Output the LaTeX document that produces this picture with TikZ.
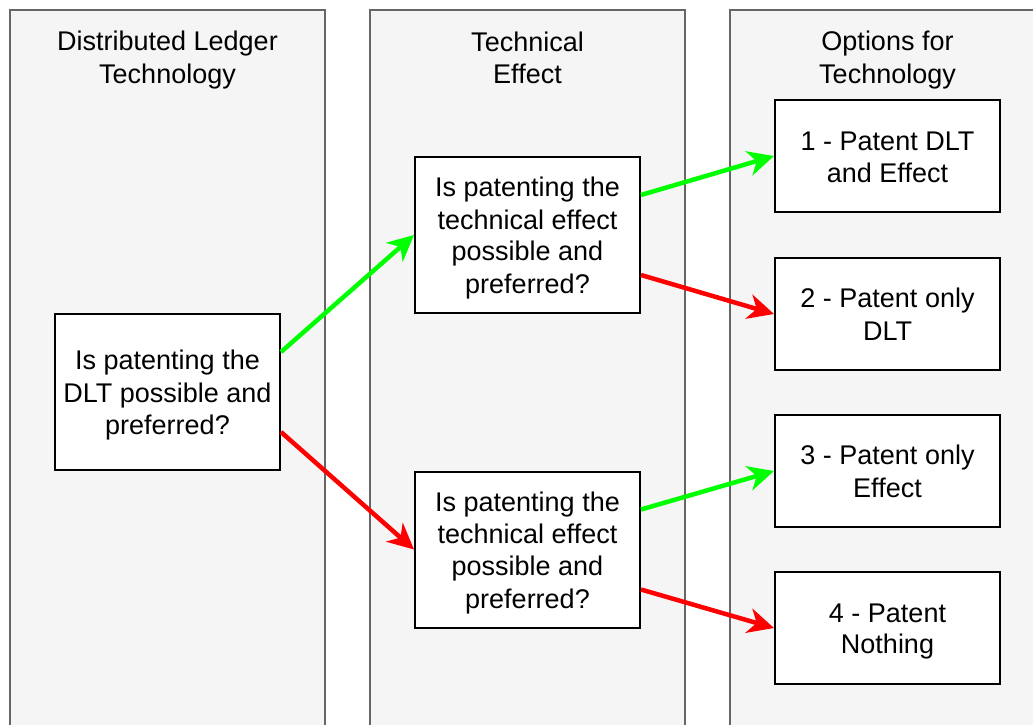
\documentclass[tikz,border=0pt]{standalone}
\usepackage{fontspec}
\setmainfont{Liberation Sans}
\usetikzlibrary{arrows.meta}
\definecolor{lanefill}{HTML}{F5F5F5}
\definecolor{laneline}{HTML}{666666}
\definecolor{yesgreen}{HTML}{00FF00}
\definecolor{nored}{HTML}{FF0000}
% line strut: fixed line height, glyphs sitting a little low
\newcommand\linestrut{\rule[-5.5pt]{0pt}{31.5pt}}
\tikzset{
  lane/.style={fill=lanefill, draw=laneline, line width=2pt},
  lanetitle/.style={align=center, font=\fontsize{27}{31.5}\selectfont, inner sep=0pt},
  decision/.style={draw=black, fill=white, line width=2pt, minimum width=225pt, minimum height=156pt,
    align=center, font=\fontsize{27}{31.5}\selectfont, inner sep=0pt},
  option/.style={draw=black, fill=white, line width=2pt, minimum width=225pt, minimum height=112pt,
    align=center, font=\fontsize{27}{31.5}\selectfont, inner sep=0pt},
  flow/.style={line width=4.5pt, -{Stealth[length=26pt, width=25pt, inset=8pt]}},
  yes/.style={flow, draw=yesgreen, fill=yesgreen},
  no/.style={flow, draw=nored, fill=nored}
}
\begin{document}
\begin{tikzpicture}[x=1pt, y=-1pt]
  \useasboundingbox (0,0) rectangle (1033,724);
  \clip (0,0) rectangle (1033,724);
  % swimlanes
  \draw[lane] (10,10) rectangle (325,740);
  \draw[lane] (370,10) rectangle (685,740);
  \draw[lane] (730,10) rectangle (1050,740);
  \node[lanetitle] (t1) at (167.5,57) {\linestrut Distributed Ledger\\\linestrut Technology};
  \node[lanetitle] (t2) at (527.5,57) {\linestrut Technical\\\linestrut Effect};
  \node[lanetitle] (t3) at (887.5,57) {\linestrut Options for\\\linestrut Technology};
  % decisions
  \node[decision] (dlt) at (167.5,392) {\linestrut Is patenting the\\\linestrut DLT possible and\\\linestrut preferred?};
  \node[decision] (effA) at (527.5,235) {\linestrut Is patenting the\\\linestrut technical effect\\\linestrut possible and\\\linestrut preferred?};
  \node[decision] (effB) at (527.5,549.5) {\linestrut Is patenting the\\\linestrut technical effect\\\linestrut possible and\\\linestrut preferred?};
  % outcomes
  \node[option] (o1) at (887.5,156) {\linestrut 1 - Patent DLT\\\linestrut and Effect};
  \node[option] (o2) at (887.5,314) {\linestrut 2 - Patent only\\\linestrut DLT};
  \node[option] (o3) at (887.5,471) {\linestrut 3 - Patent only\\\linestrut Effect};
  \node[option] (o4) at (887.5,628) {\linestrut 4 - Patent\\\linestrut Nothing};
  % connectors leave each decision at a quarter of its height from top and bottom
  \draw[yes] ([yshift=-39pt]dlt.north east) -- (effA.west);
  \draw[no] ([yshift=39pt]dlt.south east) -- (effB.west);
  \draw[yes] ([yshift=-39pt]effA.north east) -- (o1.west);
  \draw[no] ([yshift=39pt]effA.south east) -- (o2.west);
  \draw[yes] ([yshift=-39pt]effB.north east) -- (o3.west);
  \draw[no] ([yshift=39pt]effB.south east) -- (o4.west);
\end{tikzpicture}
\end{document}
